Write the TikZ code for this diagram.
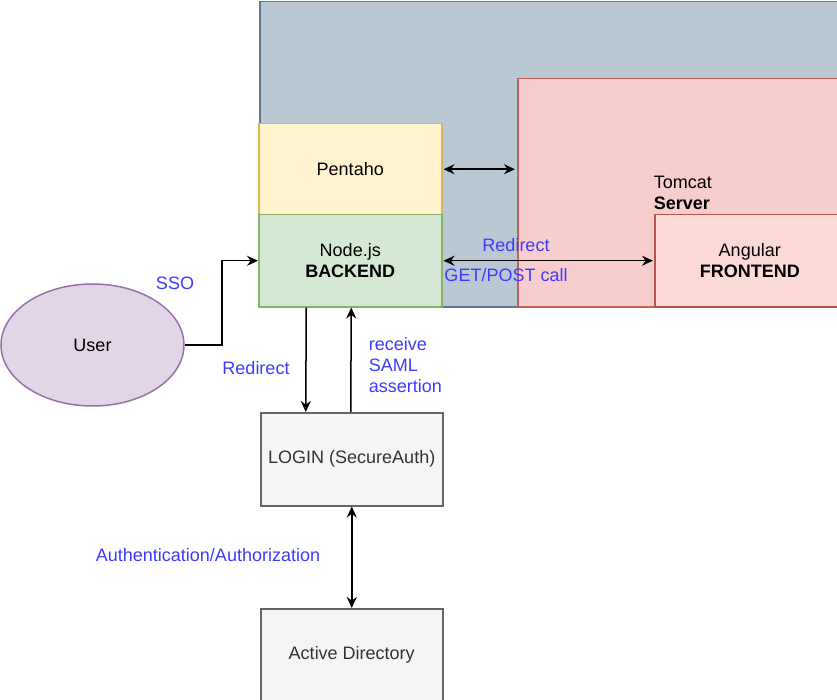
\documentclass[tikz,border=0pt]{standalone}
\usepackage{fontspec}
\setmainfont{Liberation Sans}
\usetikzlibrary{arrows.meta,shapes.geometric}

\definecolor{hostfill}{RGB}{186,200,211}
\definecolor{hostline}{RGB}{96,118,140}
\definecolor{tomfill}{RGB}{247,206,205}
\definecolor{tomline}{RGB}{196,96,92}
\definecolor{angfill}{RGB}{250,217,214}
\definecolor{angline}{RGB}{184,84,80}
\definecolor{penfill}{RGB}{255,242,204}
\definecolor{penline}{RGB}{214,182,86}
\definecolor{nodefill}{RGB}{213,232,212}
\definecolor{nodeline}{RGB}{130,179,102}
\definecolor{userfill}{RGB}{225,213,231}
\definecolor{userline}{RGB}{150,115,166}
\definecolor{grayfill}{RGB}{245,245,245}
\definecolor{grayline}{RGB}{102,102,102}
\definecolor{textblue}{RGB}{60,60,255}

\begin{document}
\begin{tikzpicture}[x=1pt, y=-1pt, line width=1.5pt,
  font=\fontsize{18}{21}\selectfont,
  box/.style={draw, rectangle, anchor=north west, inner sep=0pt, align=center},
  lbl/.style={text=textblue, inner sep=0pt},
  arr/.style={-{Stealth[length=11pt,width=10pt]}},
  dbl/.style={{Stealth[length=11pt,width=10pt]}-{Stealth[length=11pt,width=10pt]}}]

\useasboundingbox (0,0) rectangle (837,700);

\node[box, fill=hostfill, draw=hostline, minimum width=590pt, minimum height=305pt] (host) at (259,1) {};
\node[box, fill=tomfill, draw=tomline, align=left, minimum width=330pt, minimum height=228pt] (tomcat) at (517,78) {Tomcat\\\textbf{Server}};
\node[box, fill=angfill, draw=angline, minimum width=190pt, minimum height=92pt] (angular) at (654,214) {Angular\\\textbf{FRONTEND}};

\node[box, fill=penfill, draw=penline, minimum width=183pt, minimum height=91pt] (pentaho) at (258,123) {Pentaho};
\node[box, fill=nodefill, draw=nodeline, minimum width=183pt, minimum height=92pt] (nodejs) at (258,214) {Node.js\\\textbf{BACKEND}};

\node[draw=userline, fill=userfill, ellipse, minimum width=183pt, minimum height=122pt] (user) at (92.5,345) {User};

\node[box, fill=grayfill, draw=grayline, text=black!80, minimum width=182pt, minimum height=93pt] (login) at (260,412) {LOGIN (SecureAuth)};
\node[box, fill=grayfill, draw=grayline, text=black!80, minimum width=182pt, minimum height=92pt] (ad) at (260,608) {Active Directory};

\draw [dbl] ([xshift=1pt]pentaho.east) -- ([xshift=-2pt]tomcat.west |- pentaho.east);
\draw [dbl] ([xshift=1pt]nodejs.east) -- ([xshift=-1pt]angular.west |- nodejs.east);
\draw [arr] (user.east) -- ++(37,0) |- (nodejs.west);
\draw [arr] ([xshift=-44pt]nodejs.south) -- ([xshift=-46pt]login.north);
\draw [arr] ([xshift=-1pt]login.north) -- ([xshift=1pt]nodejs.south);
\draw [dbl] (login.south) -- (ad.north);

\node[lbl] (sso) at (175,283) {SSO};
\node[lbl] (redir) at (256,368) {Redirect};
\node[lbl, align=left, anchor=west] (saml) at (368,365) {receive\\SAML\\assertion};
\node[lbl] (redir2) at (516,245) {Redirect};
\node[lbl] (getpost) at (506,275) {GET/POST call};
\node[lbl] (auth) at (208,555) {Authentication/Authorization};

\end{tikzpicture}
\end{document}
